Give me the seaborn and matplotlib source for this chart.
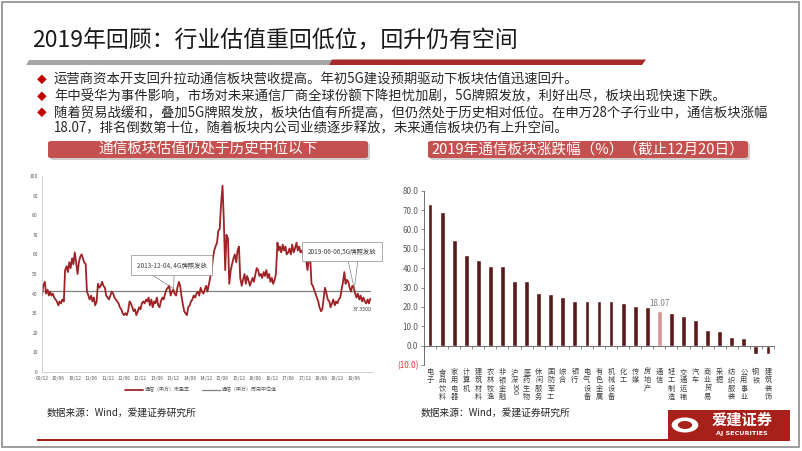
import matplotlib
matplotlib.use("Agg")
import matplotlib.pyplot as plt
from matplotlib.patches import FancyBboxPatch, Rectangle, Polygon, Circle, Wedge
from matplotlib.ticker import FuncFormatter, FixedLocator
import seaborn as sns
import pandas as pd
import numpy as np

sns.set_theme(style="white")
plt.rcParams['font.family'] = ['Noto Sans CJK SC', 'DejaVu Sans']
plt.rcParams['axes.unicode_minus'] = False

# ---------------- data ----------------
title = "2019年回顾：行业估值重回低位，回升仍有空间"
bullets = [
    "运营商资本开支回升拉动通信板块营收提高。年初5G建设预期驱动下板块估值迅速回升。",
    "年中受华为事件影响，市场对未来通信厂商全球份额下降担忧加剧，5G牌照发放，利好出尽，板块出现快速下跌。",
    "随着贸易战缓和，叠加5G牌照发放，板块估值有所提高，但仍然处于历史相对低位。在申万28个子行业中，通信板块涨幅",
]
bullet_cont = "18.07，排名倒数第十位，随着板块内公司业绩逐步释放，未来通信板块仍有上升空间。"
left_header = "通信板块估值仍处于历史中位以下"
right_header = "2019年通信板块涨跌幅（%）（截止12月20日）"
source_text = "数据来源：Wind，爱建证券研究所"

# telecom (SW) PE, two readings per month from 2009-12 to 2019-12
pe_values = [
    39, 44, 46, 40, 42, 39, 41, 39, 40, 38, 37, 36, 34, 36, 35, 37, 36, 52, 54, 51,
    56, 53, 58, 55, 61, 56, 50, 56, 59, 60, 58, 56, 55, 41, 39, 37, 39, 36, 38, 34,
    36, 45, 43, 44, 46, 44, 43, 39, 38, 37, 39, 41, 40, 38, 37, 36, 35, 33, 32, 30,
    29, 30, 29, 31, 36, 35, 33, 31, 32, 29, 31, 33, 32, 35, 36, 35, 37, 36, 38, 34,
    37, 33, 36, 35, 38, 34, 33, 36, 38, 37, 40, 42, 43, 44, 39, 41, 42, 40, 39, 43,
    46, 44, 39, 35, 31, 30, 29, 33, 34, 36, 37, 39, 38, 40, 41, 39, 43, 41, 40, 42,
    44, 41, 45, 48, 52, 58, 62, 64, 66, 72, 73, 85, 95, 78, 52, 70, 68, 45, 52, 55,
    58, 60, 56, 62, 64, 48, 44, 47, 50, 45, 49, 47, 44, 46, 48, 46, 50, 53, 52, 49,
    50, 48, 51, 49, 52, 48, 50, 46, 48, 45, 47, 50, 66, 62, 64, 61, 65, 62, 64, 60,
    61, 63, 60, 65, 61, 63, 66, 62, 64, 61, 62, 60, 61, 58, 52, 57, 58, 45, 44, 42,
    40, 38, 36, 33, 31, 32, 38, 43, 40, 37, 36, 33, 35, 37, 34, 36, 35, 37, 38, 42,
    46, 51, 45, 47, 46, 43, 41, 44, 43, 40, 38, 40, 37, 39, 36, 38, 36, 35, 37, 35,
    37.35,
]
pe_median = 41.5
pe_last_label = "37.3500"
line_labels = ["通信（申万）市盈率", "通信（申万）历史中位值"]
annot1 = "2013-12-04, 4G牌照发放"
annot2 = "2019-06-06,5G牌照发放"

industries = ["电子", "食品饮料", "家用电器", "计算机", "建筑材料", "农林牧渔", "非银金融",
              "沪深300", "医药生物", "休闲服务", "国防军工", "综合", "银行", "电气设备",
              "有色金属", "机械设备", "化工", "传媒", "房地产", "通信", "轻工制造",
              "交通运输", "汽车", "商业贸易", "采掘", "纺织服装", "公用事业", "钢铁", "建筑装饰"]
returns = [73.1, 69.2, 54.6, 46.6, 44.4, 41.3, 41.0, 33.6, 33.4, 27.4, 26.6, 25.1, 23.2, 23.1,
           23.0, 22.8, 22.0, 20.4, 20.2, 18.07, 17.1, 15.4, 13.2, 8.2, 7.3, 4.6, 4.0, -4.1, -4.1]
highlight = "通信"

# ---------------- figure ----------------
W, H = 802, 451
fig = plt.figure(figsize=(W / 100, H / 100), dpi=100)
fig.patch.set_facecolor("white")


def fx(x):
    return x / W


def fy(y):
    return 1 - y / H


RED = "#A8201A"
# frame
fig.patches.append(Rectangle((fx(2), fy(447)), fx(797), (445) / H, transform=fig.transFigure,
                             fill=False, ec="#8c8c8c", lw=1.2))

# title
fig.text(fx(32), fy(41), title, fontsize=16.5, color="#1a1a1a", va="center", ha="left")
fig.patches.append(Polygon([(fx(26), fy(65)), (fx(29), fy(60)), (fx(332), fy(60)), (fx(329), fy(65))],
                           closed=True, transform=fig.transFigure, fc="#a6a6a6", ec="none"))
fig.patches.append(Polygon([(fx(329), fy(65)), (fx(332), fy(59.5)), (fx(646), fy(59.5)), (fx(642), fy(65))],
                           closed=True, transform=fig.transFigure, fc="#A52A2A", ec="none"))

# bullets
bullet_y = [80, 96.5, 113]
for y, txt in zip(bullet_y, bullets):
    fig.text(fx(42), fy(y), "◆", fontsize=7, color="#C00000", va="center", ha="center")
    fig.text(fx(54), fy(y), txt, fontsize=9.6, color="#262626", va="center", ha="left")
fig.text(fx(54), fy(128), bullet_cont, fontsize=9.6, color="#262626", va="center", ha="left")

# header boxes
for x0, x1, txt in [(48, 368, left_header), (428, 748, right_header)]:
    fig.patches.append(FancyBboxPatch((fx(x0 + 2), fy(160)), fx(x1 - x0), (17) / H,
                                      boxstyle="round,pad=0,rounding_size=0.004",
                                      transform=fig.transFigure, fc="#d0d0d0", ec="none"))
    fig.patches.append(FancyBboxPatch((fx(x0), fy(158)), fx(x1 - x0), (17) / H,
                                      boxstyle="round,pad=0,rounding_size=0.004",
                                      transform=fig.transFigure, fc="#C4514F", ec="none"))
    fig.text(fx((x0 + x1) / 2), fy(149.5), txt, fontsize=10.5, color="white", ha="center", va="center")

# ---------------- left chart ----------------
ax1 = fig.add_axes([fx(42), fy(372), (373 - 42) / W, (372 - 176) / H])
dates = pd.date_range("2009-12-01", periods=len(pe_values), freq="SMS")
df_pe = pd.DataFrame({"date": dates, "pe": pe_values, "median": pe_median})
sns.lineplot(data=df_pe, x="date", y="median", ax=ax1, color="#7f7f7f", lw=0.9, label=line_labels[1])
sns.lineplot(data=df_pe, x="date", y="pe", ax=ax1, color="#9E2326", lw=1.3, label=line_labels[0])
ax1.set_ylim(0, 100)
ax1.set_xlim(pd.Timestamp("2009-12-01"), pd.Timestamp("2019-12-31"))
ax1.set_yticks(range(0, 101, 10))
ax1.yaxis.set_major_formatter(FuncFormatter(lambda v, p: f"{int(v)}"))
xt = pd.date_range("2009-12-01", "2019-06-01", freq="6MS")
ax1.set_xticks(xt)
ax1.set_xticklabels([d.strftime("%y/%m") for d in xt])
ax1.tick_params(axis="both", labelsize=3.6, colors="#595959", length=1.5, width=0.4, pad=1.5)
ax1.set_xlabel("")
ax1.set_ylabel("")
for s in ["top", "right"]:
    ax1.spines[s].set_visible(False)
for s in ["left", "bottom"]:
    ax1.spines[s].set_color("#bfbfbf")
    ax1.spines[s].set_linewidth(0.5)
ax1.set_facecolor("white")
h, l = ax1.get_legend_handles_labels()
leg = ax1.legend([h[1], h[0]], [l[1], l[0]], loc="upper center", bbox_to_anchor=(0.48, -0.055), ncol=2,
                 frameon=False, fontsize=3.6, handlelength=3.5, columnspacing=2.5, handletextpad=0.4)
for t in leg.get_texts():
    t.set_color("#595959")


def callout(ax, text, center, starts, target, fs):
    for st in starts:
        ax.annotate("", xy=target, xytext=st,
                    arrowprops=dict(arrowstyle="-", color="#7f7f7f", lw=0.5, shrinkA=0, shrinkB=0))
    ax.text(center[0], center[1], text, ha="center", va="center", fontsize=fs, color="#404040", zorder=6,
            bbox=dict(boxstyle="square,pad=0.9", fc="white", ec="#8c8c8c", lw=0.5))


callout(ax1, annot1, (pd.Timestamp("2013-11-10"), 54.5),
        [(pd.Timestamp("2013-02-01"), 51.5), (pd.Timestamp("2013-12-10"), 51.5)],
        (pd.Timestamp("2013-12-04"), 42.5), 4.6)
callout(ax1, annot2, (pd.Timestamp("2019-01-20"), 61.4),
        [(pd.Timestamp("2019-03-20"), 58.5), (pd.Timestamp("2019-07-20"), 58.5)],
        (pd.Timestamp("2019-06-06"), 42.5), 4.6)
ax1.text(pd.Timestamp("2019-09-01"), 32, pe_last_label, ha="center", va="center", fontsize=3.8, color="#404040")

# ---------------- right chart ----------------
ax2 = fig.add_axes([fx(424), fy(365), (774 - 424) / W, (365 - 190.7) / H])
df_r = pd.DataFrame({"industry": industries, "ret": returns})
pal = {k: ("#D69394" if k == highlight else "#5A1A1C") for k in industries}
sns.barplot(data=df_r, x="industry", y="ret", hue="industry", palette=pal, legend=False,
            width=0.4, ax=ax2, saturation=1)
ax2.set_ylim(-10, 80)
ax2.set_xlim(-0.5, len(industries) - 0.5)
ax2.set_yticks(range(-10, 81, 10))
ax2.yaxis.set_major_formatter(FuncFormatter(lambda v, p: f"({abs(v):.1f})" if v < 0 else f"{v:.1f}"))
ax2.tick_params(axis="y", labelsize=5.8, colors="#595959", length=2, width=0.5, pad=2, left=True)
for lbl in ax2.get_yticklabels():
    if lbl.get_text().startswith("("):
        lbl.set_color("#E03030")
ax2.spines["bottom"].set_position(("data", 0))
for s in ["top", "right"]:
    ax2.spines[s].set_visible(False)
for s in ["left", "bottom"]:
    ax2.spines[s].set_color("#595959")
    ax2.spines[s].set_linewidth(0.6)
ax2.set_xticks([])
ax2.xaxis.set_minor_locator(FixedLocator(np.arange(-0.5, len(industries), 1.0)))
ax2.tick_params(axis="x", which="minor", bottom=True, length=2, width=0.5, color="#595959", direction="out")
ax2.set_xlabel("")
ax2.set_ylabel("")
ax2.set_facecolor("white")
for i, name in enumerate(industries):
    if name.startswith("沪深"):
        ax2.text(i, -11.5, "沪\n深", ha="center", va="top", fontsize=5.2, color="#404040", linespacing=1.05)
        ax2.text(i, -19.2, "300", ha="center", va="top", fontsize=5.2, color="#404040", rotation=270)
    else:
        ax2.text(i, -11.5, "\n".join(list(name)), ha="center", va="top", fontsize=5.2, color="#404040",
                 linespacing=1.05)
hi = industries.index(highlight)
ax2.text(hi, returns[hi] + 1.2, f"{returns[hi]:.2f}", ha="center", va="bottom", fontsize=5.8, color="#7f7f7f")

# ---------------- footer ----------------
fig.text(fx(47), fy(413), source_text, fontsize=7, color="#262626", va="center", ha="left")
fig.text(fx(421), fy(413), source_text, fontsize=7, color="#262626", va="center", ha="left")
fig.patches.append(Rectangle((fx(37), fy(441)), fx(668 - 37), 2.5 / H, transform=fig.transFigure,
                             fc=RED, ec="none"))
fig.patches.append(Rectangle((fx(668), fy(441)), fx(790 - 668), 31 / H, transform=fig.transFigure,
                             fc=RED, ec="none"))
fig.patches.append(Circle((fx(685), fy(425)), 7.5 / H, transform=fig.transFigure, fc="white", ec="none"))
fig.patches.append(Circle((fx(685), fy(425)), 4.0 / H, transform=fig.transFigure, fc=RED, ec="none"))
fig.text(fx(742), fy(420), "爱建证券", fontsize=11, color="white", ha="center", va="center", fontweight="bold")
fig.text(fx(742), fy(434), "AJ SECURITIES", fontsize=4.6, color="white", ha="center", va="center",
         fontweight="bold", family=["DejaVu Sans"])

fig.savefig("out.png", dpi=100, facecolor="white")
